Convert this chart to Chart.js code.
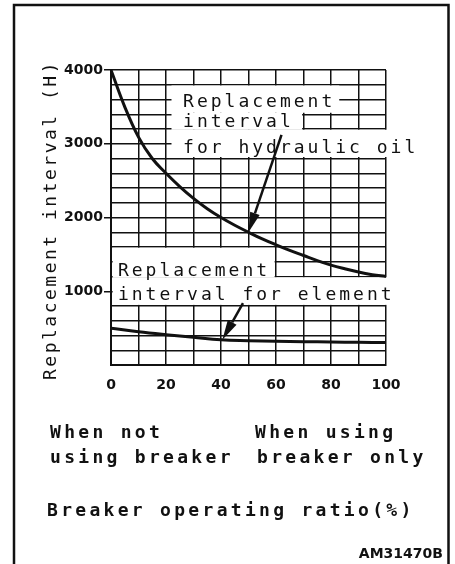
<!DOCTYPE html>
<html>
<head>
<meta charset="utf-8">
<title>Replacement interval</title>
<script src="https://cdn.jsdelivr.net/npm/chart.js@4.4.1/dist/chart.umd.min.js"></script>
<style>
  html, body { margin: 0; padding: 0; background: #fff; }
  #grafico { display: block; }
</style>
</head>
<body>
<canvas id="grafico" width="455" height="564"></canvas>
<script>
// breaker operating ratio (%) against replacement interval (H)
const ratio = [0, 5, 10, 15, 20, 25, 30, 35, 40, 45, 50, 55, 60, 65, 70, 75, 80, 85, 90, 95, 100];
const oilHours = [4000, 3500, 3090, 2800, 2600, 2420, 2260, 2120, 2000, 1895, 1800, 1710, 1630, 1555, 1485, 1415, 1355, 1305, 1260, 1225, 1200];
const elementRatio = [0, 10, 20, 30, 40, 50, 60, 70, 80, 90, 100];
const elementHours = [500, 450, 410, 375, 342, 330, 322, 316, 312, 308, 305];
const ratioLabels = [0, 20, 40, 60, 80, 100];
const hourLabels = [1000, 2000, 3000, 4000];

const INK = '#111';
const MONO = '"DejaVu Sans Mono", monospace';

// white patches behind the curve captions: [x from, x to, hours from, hours to]
const blanks = [
  [22, 83, 3420, 3790],
  [22, 69.5, 3190, 3420],
  [22, 106, 2820, 3190],
  [0.6, 59.5, 1190, 1590],
  [0.6, 106, 815, 1190]
];

// captions inside the plot: [text, x (%), baseline (H)]
const captions = [
  ['Replacement', 26.2, 3500],
  ['interval', 26.2, 3230],
  ['for hydraulic oil', 26.2, 2880],
  ['Replacement', 2.5, 1210],
  ['interval for element', 2.5, 880]
];

function arrow(ctx, x0, y0, x1, y1) {
  const a = Math.atan2(y1 - y0, x1 - x0);
  const len = 20, half = 5;
  const bx = x1 - len * Math.cos(a), by = y1 - len * Math.sin(a);
  ctx.beginPath();
  ctx.moveTo(x0, y0);
  ctx.lineTo(bx, by);
  ctx.stroke();
  ctx.beginPath();
  ctx.moveTo(x1, y1);
  ctx.lineTo(bx + half * Math.sin(a), by - half * Math.cos(a));
  ctx.lineTo(bx - half * Math.sin(a), by + half * Math.cos(a));
  ctx.closePath();
  ctx.fill();
}

const overlay = {
  id: 'overlay',
  beforeDatasetsDraw(chart) {
    const { ctx, scales: { x, y } } = chart;
    ctx.save();
    ctx.fillStyle = '#fff';
    blanks.forEach(([x0, x1, h0, h1]) => {
      const px0 = x.getPixelForValue(x0), px1 = x.getPixelForValue(x1);
      const py0 = y.getPixelForValue(h1), py1 = y.getPixelForValue(h0);
      ctx.fillRect(px0, py0, px1 - px0, py1 - py0);
    });
    ctx.restore();
  },
  afterDatasetsDraw(chart) {
    const { ctx, scales: { x, y } } = chart;
    ctx.save();
    ctx.fillStyle = INK;
    ctx.strokeStyle = INK;
    ctx.font = '18px ' + MONO;
    ctx.letterSpacing = '3px';
    ctx.textBaseline = 'alphabetic';
    captions.forEach(([t, cx, cy]) => {
      ctx.fillText(t, x.getPixelForValue(cx), y.getPixelForValue(cy));
    });
    // arrows pointing at the curves
    ctx.lineWidth = 2.5;
    const oilTip = oilHours[ratio.indexOf(50)];
    arrow(ctx, x.getPixelForValue(62), y.getPixelForValue(3120), x.getPixelForValue(50), y.getPixelForValue(oilTip));
    const elTip = elementHours[elementRatio.indexOf(40)];
    arrow(ctx, x.getPixelForValue(48), y.getPixelForValue(840), x.getPixelForValue(40.5), y.getPixelForValue(elTip));
    ctx.restore();
  },
  afterDraw(chart) {
    const { ctx } = chart;
    ctx.save();
    // outer frame, open at the bottom
    ctx.strokeStyle = INK;
    ctx.lineWidth = 2.5;
    ctx.beginPath();
    ctx.moveTo(14, 564);
    ctx.lineTo(14, 5);
    ctx.lineTo(448.5, 5);
    ctx.lineTo(448.5, 564);
    ctx.stroke();

    ctx.fillStyle = INK;
    ctx.font = '18px ' + MONO;
    ctx.letterSpacing = '2.5px';
    ctx.textAlign = 'center';
    ctx.save();
    ctx.translate(56, 220);
    ctx.rotate(-Math.PI / 2);
    ctx.fillText('Replacement interval (H)', 0, 0);
    ctx.restore();

    ctx.textAlign = 'left';
    ctx.font = 'bold 18px ' + MONO;
    ctx.letterSpacing = '3.3px';
    ctx.fillText('When not', 50, 438);
    ctx.fillText('using breaker', 50, 463);
    ctx.fillText('When using', 255, 438);
    ctx.fillText('breaker only', 257, 463);
    ctx.fillText('Breaker operating ratio(%)', 47, 516);

    ctx.letterSpacing = '0px';
    ctx.textAlign = 'right';
    ctx.font = 'bold 14px "DejaVu Sans"';
    ctx.fillText('AM31470B', 443, 558);
    ctx.restore();
  }
};

const ctx = document.getElementById('grafico').getContext('2d');

new Chart(ctx, {
  type: 'line',
  data: {
    datasets: [{
      label: 'Replacement interval for hydraulic oil',
      data: ratio.map((r, i) => ({ x: r, y: oilHours[i] })),
      borderColor: INK,
      borderWidth: 3,
      pointRadius: 0,
      tension: 0.4
    }, {
      label: 'Replacement interval for element',
      data: elementRatio.map((r, i) => ({ x: r, y: elementHours[i] })),
      borderColor: INK,
      borderWidth: 3,
      pointRadius: 0,
      tension: 0.4
    }]
  },
  options: {
    responsive: false,
    animation: false,
    devicePixelRatio: 1,
    layout: { padding: { left: 0, right: 69, top: 70, bottom: 0 } },
    plugins: {
      legend: { display: false },
      tooltip: { enabled: false }
    },
    scales: {
      x: {
        type: 'linear',
        min: 0,
        max: 100,
        afterFit: s => { s.height = 199; },
        grid: { color: INK, lineWidth: 1.5, drawTicks: false },
        border: { color: INK, width: 2 },
        ticks: {
          stepSize: 10,
          autoSkip: false,
          maxRotation: 0,
          padding: 12,
          color: INK,
          font: { family: 'DejaVu Sans', size: 14, weight: 'bold' },
          callback: v => ratioLabels.includes(v) ? v : ''
        }
      },
      y: {
        min: 0,
        max: 4000,
        afterFit: s => { s.width = 111; },
        grid: {
          color: INK,
          lineWidth: 1.5,
          tickLength: 7,
          tickWidth: 1.5,
          tickColor: c => hourLabels.includes(c.tick.value) ? INK : 'rgba(0,0,0,0)'
        },
        border: { color: INK, width: 2 },
        ticks: {
          stepSize: 200,
          autoSkip: false,
          padding: 1,
          color: INK,
          font: { family: 'DejaVu Sans', size: 14, weight: 'bold' },
          callback: v => hourLabels.includes(v) ? v : ''
        }
      }
    }
  },
  plugins: [overlay]
});
</script>
</body>
</html>
